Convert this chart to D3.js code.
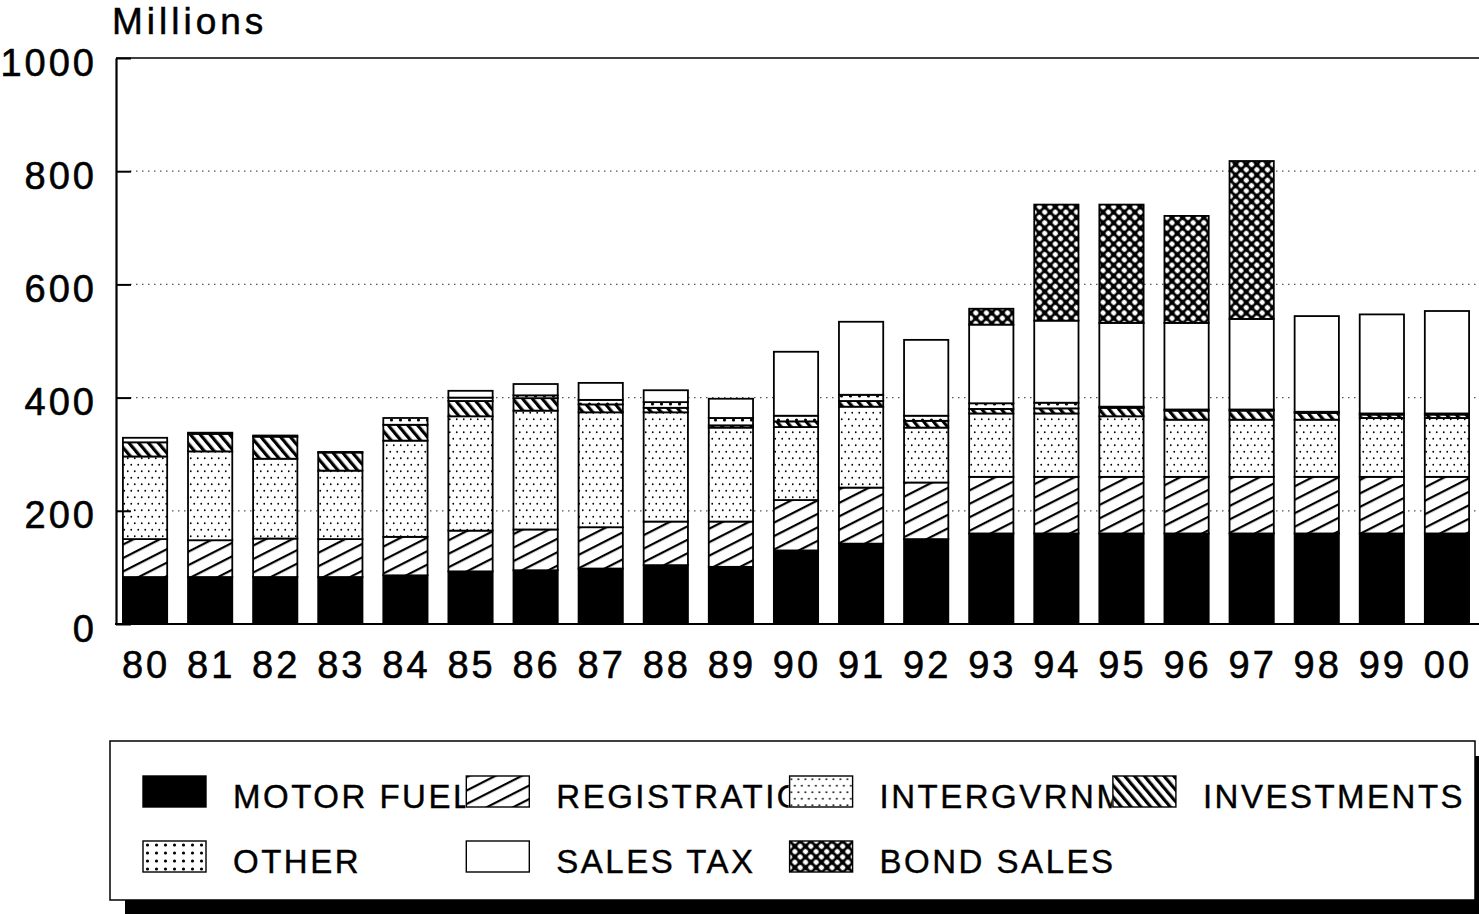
<!DOCTYPE html>
<html>
<head>
<meta charset="utf-8">
<script src="https://cdn.jsdelivr.net/npm/d3@7"></script>
<style>
  body { margin: 0; background: #fff; }
  svg { display: block; }
  text { font-family: "Liberation Sans", Arial, Helvetica, sans-serif; fill: #000; }
</style>
</head>
<body>
<svg width="1479" height="914"></svg>
<script>
// values (millions)
var years = ["80","81","82","83","84","85","86","87","88","89","90","91","92","93","94","95","96","97","98","99","00"];
var motorFuel     = [83, 83, 83, 83, 86, 93, 95, 98,104,101,130,142,150,160,160,160,160,160,160,160,160];
var registration  = [67, 65, 68, 67, 68, 72, 72, 73, 77, 80, 89, 99,100,100,100,100,100,100,100,100,100];
var intergvrnmntl = [146,157,141,121,170,202,210,203,193,166,129,143, 97,112,112,107,101,101,101,104,104];
var investments   = [25, 31, 39, 32, 28, 27, 22, 14,  8,  4, 10, 10, 12,  8,  9, 15, 16, 16, 12,  6,  6];
var other         = [ 8,  2,  2,  1, 12,  6,  5,  8, 10, 13, 10, 11,  9, 10, 10,  2,  2,  2,  2,  2,  2];
var salesTax      = [ 0,  0,  0,  0,  0, 12, 20, 30, 21, 34,113,129,134,139,145,148,153,160,169,175,181];
var bondSales     = [ 0,  0,  0,  0,  0,  0,  0,  0,  0,  0,  0,  0,  0, 28,205,209,189,279,  0,  0,  0];

var yTicks = [0, 200, 400, 600, 800, 1000];

var seriesKeys = ["motor", "reg", "intergov", "invest", "other", "sales", "bond"];
var seriesNames = {
  motor: "MOTOR FUEL", reg: "REGISTRATION", intergov: "INTERGVRNMNTL",
  invest: "INVESTMENTS", other: "OTHER", sales: "SALES TAX", bond: "BOND SALES"
};
var seriesFill = {
  motor: "#000", reg: "url(#pReg)", intergov: "url(#pInter)",
  invest: "url(#pInvest)", other: "url(#pOther)", sales: "#fff", bond: "url(#pBond)"
};

var table = years.map(function(yr, i) {
  return { year: yr, motor: motorFuel[i], reg: registration[i], intergov: intergvrnmntl[i],
           invest: investments[i], other: other[i], sales: salesTax[i], bond: bondSales[i] };
});

var svg = d3.select("svg");
var plotLeft = 116, plotRight = 1479, plotTop = 58, plotBottom = 624;

var x = d3.scaleBand()
    .domain(years)
    .range([112.5, 1479.5])
    .paddingInner(0.32)
    .paddingOuter(0.16);

var y = d3.scaleLinear()
    .domain([0, 1000])
    .range([plotBottom, plotTop]);

// ---- fill patterns
var defs = svg.append("defs");

var pReg = defs.append("pattern").attr("id", "pReg")
    .attr("patternUnits", "userSpaceOnUse").attr("width", 40).attr("height", 12)
    .attr("patternTransform", "rotate(-27)");
pReg.append("rect").attr("width", 40).attr("height", 12).attr("fill", "#fff");
pReg.append("rect").attr("y", 0).attr("width", 40).attr("height", 2.2).attr("fill", "#000");

var pInvest = defs.append("pattern").attr("id", "pInvest")
    .attr("patternUnits", "userSpaceOnUse").attr("width", 7.5).attr("height", 20)
    .attr("patternTransform", "rotate(-40)");
pInvest.append("rect").attr("width", 7.5).attr("height", 20).attr("fill", "#fff");
pInvest.append("rect").attr("width", 3.2).attr("height", 20).attr("fill", "#000");

var pInter = defs.append("pattern").attr("id", "pInter")
    .attr("patternUnits", "userSpaceOnUse").attr("width", 7).attr("height", 13);
pInter.append("rect").attr("width", 7).attr("height", 13).attr("fill", "#fff");
pInter.append("circle").attr("cx", 1.75).attr("cy", 3.25).attr("r", 0.9).attr("fill", "#000");
pInter.append("circle").attr("cx", 5.25).attr("cy", 9.75).attr("r", 0.9).attr("fill", "#000");

var pOther = defs.append("pattern").attr("id", "pOther")
    .attr("patternUnits", "userSpaceOnUse").attr("width", 9).attr("height", 8);
pOther.append("rect").attr("width", 9).attr("height", 8).attr("fill", "#fff");
pOther.append("circle").attr("cx", 4.5).attr("cy", 4).attr("r", 1.6).attr("fill", "#000");

var pBond = defs.append("pattern").attr("id", "pBond")
    .attr("patternUnits", "userSpaceOnUse").attr("width", 7.5).attr("height", 7.5)
    .attr("patternTransform", "rotate(45)");
pBond.append("rect").attr("width", 7.5).attr("height", 7.5).attr("fill", "#000");
pBond.append("rect").attr("x", 1.3).attr("y", 1.3).attr("width", 4.9).attr("height", 4.9)
    .attr("rx", 1.6).attr("fill", "#fff");

// ---- grid
svg.append("g")
    .attr("class", "grid")
  .selectAll("line")
  .data(yTicks.filter(function(v) { return v > 0 && v < 1000; }))
  .enter().append("line")
    .attr("x1", plotLeft + 14)
    .attr("x2", plotRight)
    .attr("y1", function(d) { return y(d); })
    .attr("y2", function(d) { return y(d); })
    .attr("stroke", "#555")
    .attr("stroke-width", 1.2)
    .attr("stroke-dasharray", "1.5,4.5");

// top frame line at 1000
svg.append("line")
    .attr("x1", plotLeft).attr("x2", plotRight)
    .attr("y1", y(1000)).attr("y2", y(1000))
    .attr("stroke", "#000").attr("stroke-width", 1.3);

// ---- stacked bars
var stacked = d3.stack().keys(seriesKeys)(table);

var layer = svg.append("g")
    .attr("class", "bars")
  .selectAll("g")
  .data(stacked)
  .enter().append("g")
    .attr("fill", function(d) { return seriesFill[d.key]; });

layer.selectAll("rect")
  .data(function(d) { return d.filter(function(p) { return p[1] - p[0] > 0; }); })
  .enter().append("rect")
    .attr("x", function(d) { return x(d.data.year); })
    .attr("width", x.bandwidth())
    .attr("y", function(d) { return y(d[1]); })
    .attr("height", function(d) { return y(d[0]) - y(d[1]); })
    .attr("stroke", "#000")
    .attr("stroke-width", 1.8);

// ---- axes
var yAxis = svg.append("g")
    .attr("transform", "translate(" + plotLeft + ",0)")
    .call(d3.axisLeft(y).tickValues(yTicks).tickSize(-15).tickSizeOuter(0).tickFormat(d3.format("d")));
yAxis.select(".domain").attr("stroke-width", 2.2);
yAxis.selectAll(".tick line").attr("stroke-width", 2);
yAxis.selectAll(".tick text")
    .attr("x", -19)
    .attr("dy", null)
    .attr("y", 17)
    .style("font-size", "38px")
    .style("letter-spacing", "3px")
    .attr("stroke", "#000")
    .attr("stroke-width", 0.6);

var xAxis = svg.append("g")
    .attr("transform", "translate(0," + plotBottom + ")")
    .call(d3.axisBottom(x).tickSize(0).tickPadding(0));
xAxis.select(".domain").remove();
xAxis.selectAll(".tick text")
    .attr("dy", null)
    .attr("y", 54)
    .attr("dx", "1")
    .style("font-size", "38px")
    .style("letter-spacing", "3px")
    .attr("stroke", "#000")
    .attr("stroke-width", 0.6);

svg.append("line")
    .attr("x1", plotLeft - 1).attr("x2", plotRight)
    .attr("y1", plotBottom).attr("y2", plotBottom)
    .attr("stroke", "#000").attr("stroke-width", 2.2);

svg.append("text")
    .attr("x", 112)
    .attr("y", 34)
    .style("font-size", "37px")
    .style("letter-spacing", "4px")
    .attr("stroke", "#000")
    .attr("stroke-width", 0.5)
    .text("Millions");

// ---- legend
var legend = svg.append("g").attr("class", "legend");

legend.append("rect")
    .attr("x", 125).attr("y", 756)
    .attr("width", 1380).attr("height", 158)
    .attr("fill", "#000");
legend.append("rect")
    .attr("x", 110).attr("y", 741)
    .attr("width", 1365).attr("height", 159)
    .attr("fill", "#fff")
    .attr("stroke", "#000")
    .attr("stroke-width", 1.5);

var colStep = 323.3;

var legendPos = seriesKeys.map(function(k, i) {
  return { key: k, col: i < 4 ? i : i - 4, row: i < 4 ? 0 : 1 };
});

// a label is cut where the next swatch of its row starts, like the original
legendPos.forEach(function(d) {
  var hasNext = d.row === 0 ? d.col < 3 : d.col < 2;
  defs.append("clipPath").attr("id", "clip-" + d.key)
    .append("rect")
      .attr("x", 0).attr("y", -10)
      .attr("width", hasNext ? colStep - 1 : 500)
      .attr("height", 60);
});

var item = legend.selectAll("g.item")
  .data(legendPos)
  .enter().append("g")
    .attr("class", "item")
    .attr("transform", function(d) {
      return "translate(" + (143 + d.col * colStep) + "," + (776 + d.row * 65) + ")";
    });

item.append("g")
    .attr("clip-path", function(d) { return "url(#clip-" + d.key + ")"; })
  .append("text")
    .attr("x", 90)
    .attr("y", 32)
    .style("font-size", "33px")
    .style("letter-spacing", "2.5px")
    .attr("stroke", "#000")
    .attr("stroke-width", 0.4)
    .text(function(d) { return seriesNames[d.key]; });

item.append("rect")
    .attr("width", 63)
    .attr("height", 31)
    .attr("fill", function(d) { return seriesFill[d.key]; })
    .attr("stroke", "#000")
    .attr("stroke-width", 1.4);
</script>
</body>
</html>
